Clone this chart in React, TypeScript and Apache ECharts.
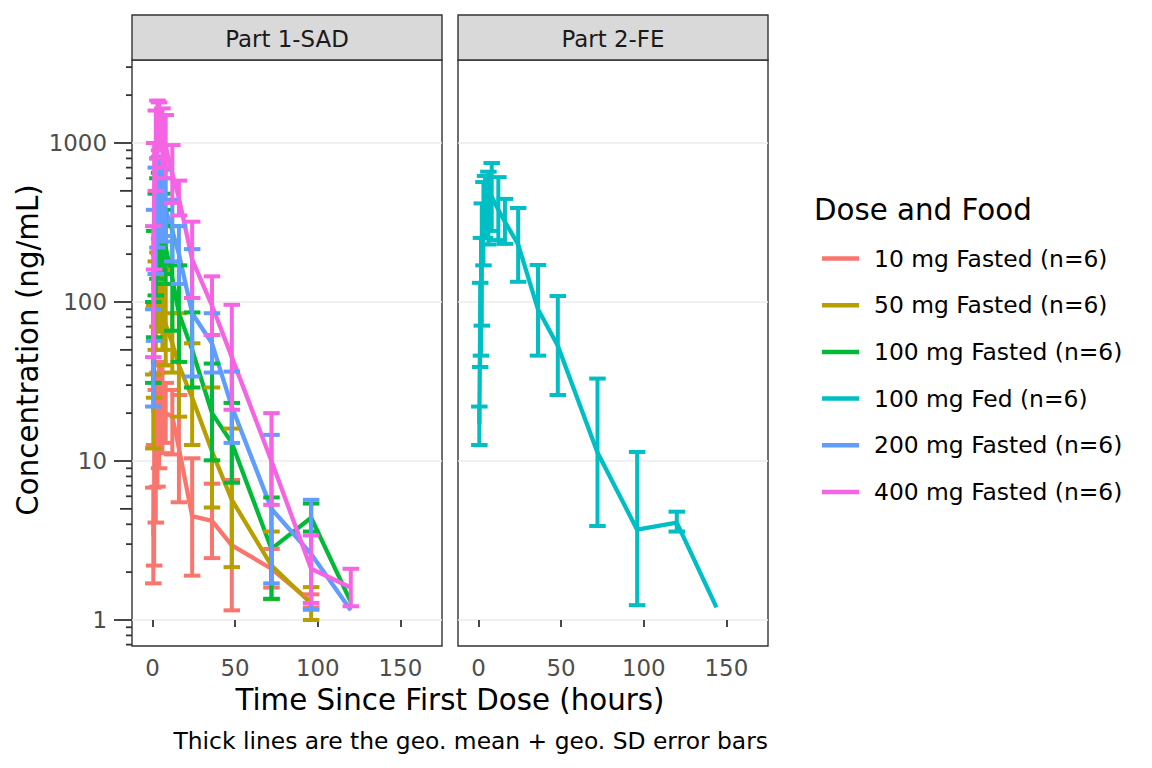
import React, { useEffect, useRef } from "react";
import * as echarts from "echarts";

// ---------- data ----------
const TIMES_SAD = [0.5, 1, 2, 3, 4, 6, 8, 12, 16, 24, 36, 48, 72, 96, 120];
const TIMES_FE = [0.5, 1, 1.5, 2, 3, 4, 6, 8, 12, 16, 24, 36, 48, 72, 96, 120, 144];

const GROUP_NAMES = [
  "10 mg Fasted (n=6)",
  "50 mg Fasted (n=6)",
  "100 mg Fasted (n=6)",
  "100 mg Fed (n=6)",
  "200 mg Fasted (n=6)",
  "400 mg Fasted (n=6)",
];
const COLORS = ["#F8766D", "#B79F00", "#00BA38", "#00BFC4", "#619CFF", "#F564E3"];
const PANEL_NAMES = ["Part 1-SAD", "Part 2-FE"];

const MEAN_10 = [3.4, 5.3, 11, 16, 19, 21, 20, 19, 12, 4.5, 4.2, 2.95, 2.1, 1.3, null];
const LO_10 = [1.7, 2.2, 4.1, 6.9, 9, 11.2, 13, 11, 5.5, 1.9, 2.45, 1.15, 1.6, 1.2, null];
const HI_10 = [6.8, 12.6, 28, 36, 42, 40, 31, 28, 26, 10.4, 7.2, 7.6, 2.8, 1.45, null];

const MEAN_50 = [20, 48, 95, 120, 115, 90, 72, 55, 40, 25, 11.5, 5.7, 2.2, 1.27, null];
const LO_50 = [12, 25, 50, 70, 65, 50, 40, 36, 19, 12.6, 5.1, 2.15, 1.35, 1.0, null];
const HI_50 = [35, 95, 180, 205, 200, 160, 130, 85, 85, 55, 29, 16, 3.6, 1.61, null];

const MEAN_100 = [55, 130, 230, 280, 300, 270, 220, 140, 85, 50, 20, 13, 2.8, 4.4, 1.3];
const LO_100 = [31, 60, 110, 140, 150, 150, 130, 66, 42, 29, 10.1, 7.3, 1.36, 3.6, null];
const HI_100 = [100, 280, 480, 600, 650, 480, 380, 300, 170, 86, 41, 23.2, 5.9, 5.4, null];

const MEAN_200 = [45, 150, 320, 420, 450, 420, 380, 280, 200, 85, 55, 22, 5, 2.6, 1.15];
const LO_200 = [22, 57, 150, 220, 250, 260, 240, 180, 130, 34, 36, 13, 1.7, 1.16, null];
const HI_200 = [90, 380, 700, 800, 820, 680, 600, 440, 300, 215, 85, 36.5, 14.6, 5.7, null];

const MEAN_400 = [120, 400, 900, 1200, 1300, 1100, 950, 640, 450, 185, 95, 45, 10, 2.1, 1.6];
const LO_400 = [45, 160, 500, 800, 900, 700, 600, 420, 350, 106, 62, 21, 5.3, 1.28, 1.22];
const HI_400 = [300, 1000, 1600, 1850, 1800, 1650, 1500, 970, 580, 320, 145, 96, 20, 3.4, 2.1];

const MEAN_FED = [17, 70, 110, 180, 300, 380, 420, 460, 380, 320, 230, 90, 53, 11.3, 3.7, 4.1, 1.2];
const LO_FED = [12.6, 39, 46, 71, 170, 253, 230, 280, 245, 232, 134, 46, 26, 3.9, 1.24, 3.6, null];
const HI_FED = [22, 132, 253, 417, 568, 620, 660, 748, 610, 445, 390, 171, 109, 33, 11.4, 4.8, null];

const X_TICKS = [0, 50, 100, 150];
const Y_TICKS = [1, 10, 100, 1000];
const LOG_TICKS = [0.7, 0.8, 0.9, 1, 2, 3, 4, 5, 6, 7, 8, 9, 10, 20, 30, 40, 50, 60, 70, 80, 90, 100, 200, 300, 400, 500, 600, 700, 800, 900, 1000, 2000, 3000];

// ---------- layout ----------
const X_MIN = -12.4;
const X_MAX = 175.2;
const Y_MIN = -0.1635;
const Y_MAX = 3.522;
const CAP_HALF = 5;
const FONT = "DejaVu Sans";
const SMALL = 22.9;
const LEGEND_SIZE = 23.4;
const CAPTION_SIZE = 23.4;
const BIG = 29.3;
const LINE_W = 4.3;
const BAR_W = 4.0;
const PANELS = [
  { left: 132, width: 310 },
  { left: 458, width: 310 },
];
const PANEL_TOP = 60;
const PANEL_H = 586;

const GROUPS = [
  { name: GROUP_NAMES[0], color: COLORS[0], panel: 0, times: TIMES_SAD, mean: MEAN_10, lo: LO_10, hi: HI_10 },
  { name: GROUP_NAMES[1], color: COLORS[1], panel: 0, times: TIMES_SAD, mean: MEAN_50, lo: LO_50, hi: HI_50 },
  { name: GROUP_NAMES[2], color: COLORS[2], panel: 0, times: TIMES_SAD, mean: MEAN_100, lo: LO_100, hi: HI_100 },
  { name: GROUP_NAMES[3], color: COLORS[3], panel: 1, times: TIMES_FE, mean: MEAN_FED, lo: LO_FED, hi: HI_FED },
  { name: GROUP_NAMES[4], color: COLORS[4], panel: 0, times: TIMES_SAD, mean: MEAN_200, lo: LO_200, hi: HI_200 },
  { name: GROUP_NAMES[5], color: COLORS[5], panel: 0, times: TIMES_SAD, mean: MEAN_400, lo: LO_400, hi: HI_400 },
];

const lg = (v: number) => Math.log10(v);

function buildOption(): any {
  const grid = PANELS.map((p) => ({
    left: p.left,
    top: PANEL_TOP,
    width: p.width,
    height: PANEL_H,
    show: true,
    backgroundColor: "#ffffff",
    borderColor: "#333333",
    borderWidth: 1.4,
    containLabel: false,
  }));

  const xAxis = PANELS.map((_, i) => ({
    type: "value",
    gridIndex: i,
    min: X_MIN,
    max: X_MAX,
    axisLine: { show: false },
    splitLine: { show: false },
    axisTick: {
      show: true,
      customValues: X_TICKS,
      length: 7,
      lineStyle: { color: "#333333", width: 1.8 },
    },
    axisLabel: {
      show: true,
      customValues: X_TICKS,
      margin: 10,
      color: "#4D4D4D",
      fontSize: SMALL,
      fontFamily: FONT,
    },
  }));

  const yAxis = PANELS.map((_, i) => ({
    type: "value",
    gridIndex: i,
    min: Y_MIN,
    max: Y_MAX,
    axisLine: { show: false },
    splitLine: { show: true, lineStyle: { color: "#EBEBEB", width: 1.6 } },
    axisTick: { show: false, customValues: Y_TICKS.map(lg) },
    axisLabel: {
      show: i === 0,
      customValues: Y_TICKS.map(lg),
      margin: 25,
      color: "#4D4D4D",
      fontSize: SMALL,
      fontFamily: FONT,
      formatter: (v: number) => String(Math.round(Math.pow(10, v))),
    },
  }));

  const lineSeries = GROUPS.map((g) => ({
    type: "line",
    name: g.name,
    xAxisIndex: g.panel,
    yAxisIndex: g.panel,
    symbol: "none",
    showSymbol: false,
    color: g.color,
    itemStyle: { color: g.color },
    lineStyle: { color: g.color, width: LINE_W },
    data: g.times
      .map((t, i) => (g.mean[i] == null ? null : [t, lg(g.mean[i] as number)]))
      .filter((d) => d !== null),
    z: 3,
  }));

  const errSeries = GROUPS.map((g) => ({
    type: "custom",
    name: g.name + " SD",
    xAxisIndex: g.panel,
    yAxisIndex: g.panel,
    encode: { x: 0, y: [1, 2] },
    clip: false,
    z: 4,
    data: g.times
      .map((t, i) =>
        g.lo[i] == null || g.hi[i] == null ? null : [t, lg(g.lo[i] as number), lg(g.hi[i] as number)]
      )
      .filter((d) => d !== null),
    renderItem: (params: any, api: any) => {
      const t = api.value(0);
      const lo = api.value(1);
      const hi = api.value(2);
      const a = api.coord([t, lo]);
      const b = api.coord([t, hi]);
      const l1 = api.coord([t - CAP_HALF, hi]);
      const r1 = api.coord([t + CAP_HALF, hi]);
      const l2 = api.coord([t - CAP_HALF, lo]);
      const r2 = api.coord([t + CAP_HALF, lo]);
      const style = { stroke: g.color, lineWidth: BAR_W, fill: null, lineCap: "butt" };
      return {
        type: "group",
        children: [
          { type: "line", shape: { x1: a[0], y1: a[1], x2: b[0], y2: b[1] }, style },
          { type: "line", shape: { x1: l1[0], y1: l1[1], x2: r1[0], y2: r1[1] }, style },
          { type: "line", shape: { x1: l2[0], y1: l2[1], x2: r2[0], y2: r2[1] }, style },
        ],
      };
    },
  }));

  const logTickSeries = {
    type: "custom",
    name: "logticks",
    xAxisIndex: 0,
    yAxisIndex: 0,
    clip: false,
    silent: true,
    z: 5,
    data: LOG_TICKS.map((v) => {
      const m = v / Math.pow(10, Math.floor(Math.log10(v) + 1e-9));
      const len = Math.abs(m - 1) < 1e-6 ? 18 : Math.abs(m - 5) < 1e-6 ? 12 : 6;
      return [X_MIN, lg(v), len];
    }),
    renderItem: (params: any, api: any) => {
      const p = api.coord([api.value(0), api.value(1)]);
      const len = api.value(2);
      return {
        type: "line",
        shape: { x1: p[0] - len, y1: p[1], x2: p[0], y2: p[1] },
        style: { stroke: "#333333", lineWidth: 1.8 },
      };
    },
  };

  const graphic: any[] = [];
  PANELS.forEach((p, i) => {
    graphic.push({
      type: "rect",
      shape: { x: p.left, y: 15, width: p.width, height: PANEL_TOP - 15 },
      style: { fill: "#D9D9D9", stroke: "#333333", lineWidth: 1.4 },
      z: 10,
    });
    graphic.push({
      type: "text",
      x: p.left + p.width / 2,
      y: 39,
      z: 11,
      style: {
        text: PANEL_NAMES[i],
        fill: "#1A1A1A",
        fontSize: SMALL,
        fontFamily: FONT,
        align: "center",
        verticalAlign: "middle",
      },
    });
  });
  graphic.push({
    type: "text",
    x: 450,
    y: 700,
    style: {
      text: "Time Since First Dose (hours)",
      fill: "#000000",
      fontSize: BIG,
      fontFamily: FONT,
      align: "center",
      verticalAlign: "middle",
    },
  });
  graphic.push({
    type: "text",
    x: 28,
    y: 350,
    rotation: Math.PI / 2,
    style: {
      text: "Concentration (ng/mL)",
      fill: "#000000",
      fontSize: BIG,
      fontFamily: FONT,
      align: "center",
      verticalAlign: "middle",
    },
  });
  graphic.push({
    type: "text",
    x: 768,
    y: 741,
    style: {
      text: "Thick lines are the geo. mean + geo. SD error bars",
      fill: "#000000",
      fontSize: CAPTION_SIZE,
      fontFamily: FONT,
      align: "right",
      verticalAlign: "middle",
    },
  });
  graphic.push({
    type: "text",
    x: 814,
    y: 210,
    style: {
      text: "Dose and Food",
      fill: "#000000",
      fontSize: BIG,
      fontFamily: FONT,
      align: "left",
      verticalAlign: "middle",
    },
  });

  return {
    animation: false,
    backgroundColor: "#ffffff",
    textStyle: { fontFamily: FONT },
    grid,
    xAxis,
    yAxis,
    legend: {
      show: true,
      orient: "vertical",
      left: 817,
      top: 242,
      icon: "rect",
      itemWidth: 37,
      itemHeight: 4.5,
      itemGap: 23.7,
      selectedMode: false,
      data: GROUP_NAMES,
      textStyle: {
        color: "#000000",
        fontSize: LEGEND_SIZE,
        fontFamily: FONT,
        padding: [0, 0, 0, 10],
      },
    },
    graphic,
    series: [...lineSeries, ...errSeries, logTickSeries],
  };
}

export default function App() {
  const ref = useRef<HTMLDivElement | null>(null);
  useEffect(() => {
    document.body.style.margin = "0";
    if (!ref.current) return;
    const chart = echarts.init(ref.current, undefined, { renderer: "svg" });
    chart.setOption(buildOption());
    return () => {
      chart.dispose();
    };
  }, []);
  return <div ref={ref} style={{ width: 1152, height: 768 }} />;
}
